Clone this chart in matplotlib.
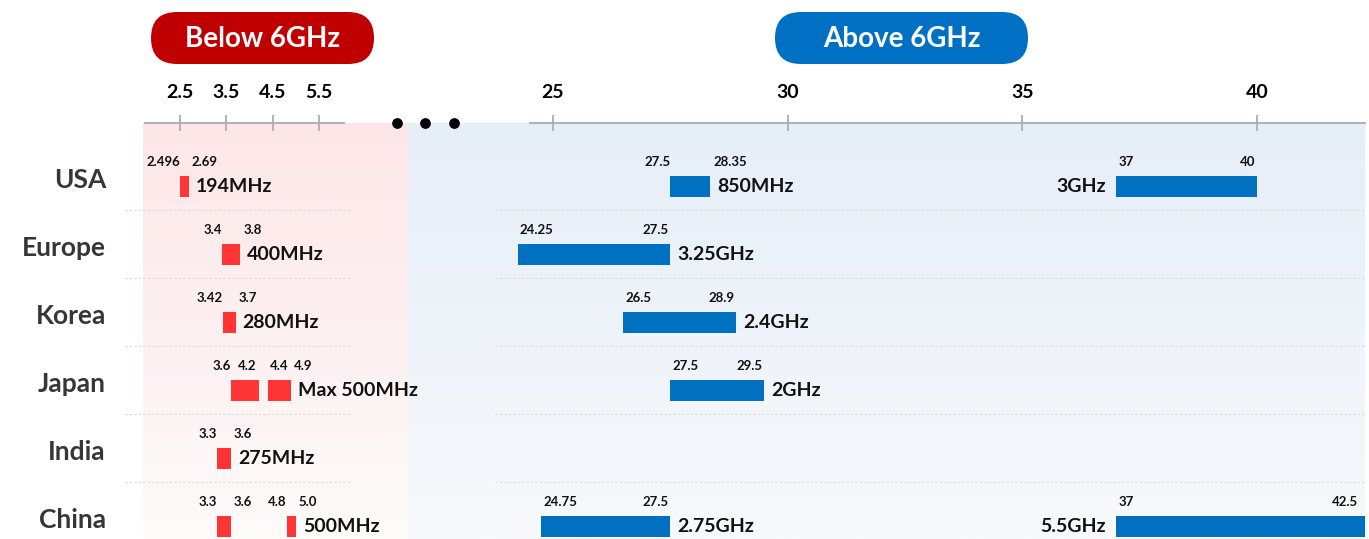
import numpy as np
import matplotlib
matplotlib.use('Agg')
import matplotlib.pyplot as plt
from matplotlib.patches import FancyBboxPatch
from matplotlib.transforms import offset_copy

plt.rcParams['font.family'] = ['Lato', 'DejaVu Sans']

# ---- data ----
regions = ['USA', 'Europe', 'Korea', 'Japan', 'India', 'China']

low_bands = [
    [(2.496, 2.69)],
    [(3.4, 3.8)],
    [(3.42, 3.7)],
    [(3.6, 4.2), (4.4, 4.9)],
    [(3.3, 3.6)],
    [(3.3, 3.6), (4.8, 5.0)],
]
low_totals = ['194MHz', '400MHz', '280MHz', 'Max 500MHz', '275MHz', '500MHz']

high_bands = [
    [(27.5, 28.35), (37, 40)],
    [(24.25, 27.5)],
    [(26.5, 28.9)],
    [(27.5, 29.5)],
    [],
    [(24.75, 27.5), (37, 42.5)],
]
high_totals = [['850MHz', '3GHz'], ['3.25GHz'], ['2.4GHz'], ['2GHz'], [], ['2.75GHz', '5.5GHz']]

low_ticks = [2.5, 3.5, 4.5, 5.5]
high_ticks = [25, 30, 35, 40]

RED = '#ff3535'
BLUE = '#0070c0'
W, H = 1369, 539
TOP = 123  # pixel row where the plotting band starts

fig = plt.figure(figsize=(W / 100, H / 100), dpi=100)

# background layer in pixel coordinates
bg = fig.add_axes([0, 0, 1, 1], zorder=0)
bg.set_xlim(0, W)
bg.set_ylim(H, 0)
bg.axis('off')


def vgrad(c_top, c_bot, n=256):
    t = np.linspace(0, 1, n)[:, None]
    a = np.array(matplotlib.colors.to_rgb(c_top))
    b = np.array(matplotlib.colors.to_rgb(c_bot))
    return (a * (1 - t) + b * t)[:, None, :].repeat(2, axis=1)


bg.imshow(vgrad('#fde6e7', '#fefbfb'), extent=[143, 408, H, TOP], aspect='auto', zorder=0)
bg.imshow(vgrad('#e6eef8', '#f8f9fc'), extent=[408, 1365, H, TOP], aspect='auto', zorder=0)

# section badges
for x0, x1, col, txt in [(151, 374, '#c00000', 'Below 6GHz'), (775, 1028, '#0070c4', 'Above 6GHz')]:
    bg.add_patch(FancyBboxPatch((x0, 12), x1 - x0, 52,
                                boxstyle='round,pad=0,rounding_size=26',
                                fc=col, ec='none'))
    bg.text((x0 + x1) / 2, 39, txt, color='white', fontsize=20, fontweight='bold',
            ha='center', va='center')

# axis break dots
bg.scatter([397, 425, 454], [TOP, TOP, TOP], s=45, color='black', zorder=3)

# row geometry: row i bar centre sits at pixel 186.5 + 68 i
ylim = ((H - 186.5) / 68, (TOP - 186.5) / 68)
frac_h = (H - TOP) / H

rows = fig.add_axes([0, 0, 1, frac_h], zorder=1)
rows.set_xlim(0, W)
rows.set_ylim(*ylim)
rows.axis('off')
for i, name in enumerate(regions):
    rows.text(106, i - 0.09, name, ha='right', va='center', fontsize=19,
              fontweight='bold', color='#363636')
    if i < len(regions) - 1:
        for xa, xb in [(125, 350), (495, 1365)]:
            rows.plot([xa, xb], [i + 0.35, i + 0.35], color='#dadada', lw=0.8,
                      ls=(0, (2, 2)))

bar_h = 21 / 68


def make_axes(px0, px1, x_ref, px_ref, scale):
    ax = fig.add_axes([px0 / W, 0, (px1 - px0) / W, frac_h], zorder=2)
    ax.patch.set_alpha(0)
    ax.set_xlim(x_ref - (px_ref - px0) / scale, x_ref + (px1 - px_ref) / scale)
    ax.set_ylim(*ylim)
    for s in ax.spines.values():
        s.set_visible(False)
    ax.set_yticks([])
    ax.xaxis.tick_top()
    ax.tick_params(axis='x', top=True, bottom=False, labeltop=True, labelbottom=False,
                   direction='inout', length=11, width=1.2, color='#a8a8a8', pad=10,
                   labelsize=14)
    return ax


axL = make_axes(143, 408, 2.5, 180, 46.33)
axR = make_axes(408, 1365, 25, 553, 46.93)

axL.set_xticks(low_ticks, [f'{t:g}' for t in low_ticks], fontweight='bold')
axR.set_xticks(high_ticks, [f'{t:g}' for t in high_ticks], fontweight='bold')
axL.plot([1.75, 6.05], [1, 1], transform=axL.get_xaxis_transform(), color='#b4b4b4',
         lw=1.5, clip_on=False, zorder=1)
axR.plot([24.5, axR.get_xlim()[1]], [1, 1], transform=axR.get_xaxis_transform(),
         color='#b4b4b4', lw=1.5, clip_on=False, zorder=1)


def fmt_low(v):
    s = f'{v:g}'
    return s if '.' in s else s + '.0'


def edge_label(ax, x, i, txt, ha, dx):
    tr = offset_copy(ax.transData, fig, x=dx, y=24, units='dots')
    ax.text(x, i, txt, ha=ha, va='center', fontsize=9.5, fontweight='bold',
            color='#111111', transform=tr)


def draw_bands(ax, i, bands, color, fmt, wide):
    xmax = ax.get_xlim()[1]
    for k, (a, b) in enumerate(bands):
        ax.barh(i, b - a, left=a, height=bar_h, color=color, edgecolor='none', zorder=3)
        inside = (b - a) >= wide
        near_prev = k > 0 and a - bands[k - 1][1] < 0.5
        near_next = k < len(bands) - 1 and bands[k + 1][0] - b < 0.5
        if inside or near_prev:
            edge_label(ax, a, i, fmt(a), 'left', 2)
        else:
            edge_label(ax, a, i, fmt(a), 'right', 0)
        if inside or near_next:
            edge_label(ax, min(b, xmax - 0.1), i, fmt(b), 'right', -2)
        else:
            edge_label(ax, b, i, fmt(b), 'left', 3)


for i in range(len(regions)):
    draw_bands(axL, i, low_bands[i], RED, fmt_low, 1.0)
    last = low_bands[i][-1][1]
    tr = offset_copy(axL.transData, fig, x=7, y=0, units='dots')
    axL.text(last, i, low_totals[i], ha='left', va='center', fontsize=14,
             fontweight='bold', color='#111111', transform=tr, clip_on=False, zorder=4)

    draw_bands(axR, i, high_bands[i], BLUE, lambda v: f'{v:g}', 1.0)
    for (a, b), lab in zip(high_bands[i], high_totals[i]):
        if a >= 35:
            tr = offset_copy(axR.transData, fig, x=-10, y=0, units='dots')
            axR.text(a, i, lab, ha='right', va='center', fontsize=14,
                     fontweight='bold', color='#111111', transform=tr)
        else:
            tr = offset_copy(axR.transData, fig, x=7, y=0, units='dots')
            axR.text(b, i, lab, ha='left', va='center', fontsize=14,
                     fontweight='bold', color='#111111', transform=tr)

fig.savefig('out.png', dpi=100)
